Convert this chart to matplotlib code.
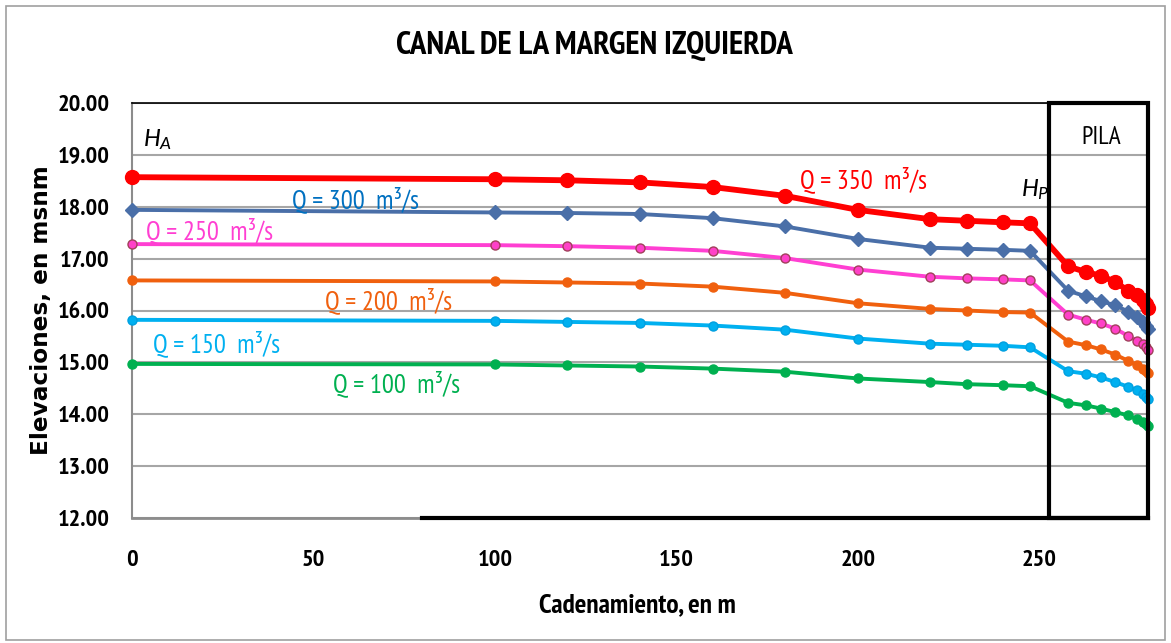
import matplotlib
matplotlib.use("Agg")
import matplotlib.pyplot as plt
from matplotlib.patches import Rectangle

# ---- data ----
cadenamiento = [0, 100, 120, 140, 160, 180, 200, 220, 230, 240, 247.5,
                258, 263, 267, 271, 274.5, 277, 278.5, 279.5, 280]
q350 = [18.57, 18.53, 18.51, 18.47, 18.38, 18.21, 17.94, 17.76, 17.73, 17.70, 17.68,
        16.85, 16.74, 16.67, 16.55, 16.38, 16.29, 16.20, 16.12, 16.05]
q300 = [17.94, 17.89, 17.88, 17.86, 17.78, 17.62, 17.38, 17.21, 17.19, 17.17, 17.15,
        16.38, 16.27, 16.18, 16.10, 15.98, 15.87, 15.78, 15.70, 15.65]
q250 = [17.28, 17.26, 17.24, 17.21, 17.15, 17.01, 16.79, 16.65, 16.62, 16.60, 16.58,
        15.92, 15.82, 15.75, 15.65, 15.51, 15.42, 15.36, 15.29, 15.24]
q200 = [16.58, 16.56, 16.54, 16.52, 16.46, 16.34, 16.14, 16.03, 16.00, 15.97, 15.96,
        15.40, 15.33, 15.25, 15.15, 15.03, 14.94, 14.88, 14.83, 14.80]
q150 = [15.82, 15.80, 15.78, 15.76, 15.71, 15.63, 15.46, 15.36, 15.34, 15.32, 15.29,
        14.83, 14.78, 14.71, 14.62, 14.53, 14.46, 14.40, 14.34, 14.30]
q100 = [14.97, 14.96, 14.94, 14.92, 14.88, 14.82, 14.69, 14.62, 14.58, 14.56, 14.54,
        14.22, 14.17, 14.11, 14.04, 13.98, 13.90, 13.85, 13.81, 13.78]

series_labels = ['Q = 350  m³/s', 'Q = 300  m³/s', 'Q = 250  m³/s',
                 'Q = 200  m³/s', 'Q = 150  m³/s', 'Q = 100  m³/s']
x_ticks = [0, 50, 100, 150, 200, 250]
y_ticks = [12, 13, 14, 15, 16, 17, 18, 19, 20]
pila_start = 252.6
x_max = 280

NARROW = ['PT Sans Narrow', 'DejaVu Sans']
plt.rcParams['font.family'] = NARROW
plt.rcParams['mathtext.fontset'] = 'custom'
plt.rcParams['mathtext.it'] = 'Carlito:italic'
plt.rcParams['mathtext.rm'] = 'Carlito'

W, H = 1171, 643
fig = plt.figure(figsize=(W / 100, H / 100), dpi=100)
ax = fig.add_axes([132 / W, 1 - 518 / H, (1148 - 132) / W, (518 - 103) / H])


def fit(t, target_px):
    fig.canvas.draw()
    w = t.get_window_extent().width
    t.set_fontsize(t.get_fontsize() * target_px / w)
    return t.get_fontsize()


# measure tick font size: "20.00" should be ~52 px wide
probe = fig.text(0.5, 0.5, '20.00', fontsize=18, fontweight='bold')
tick_fs = fit(probe, 52)
probe.remove()

series = [
    (q350, '#FF0000', 'o', 10, 4.2, '#FF0000', '#FF0000'),
    (q300, '#4A6FA8', 'D', 7, 2.8, '#4A6FA8', '#4A6FA8'),
    (q250, '#FF3FD2', 'o', 6.5, 2.8, '#FF40C8', '#A0405A'),
    (q200, '#F0600E', 'o', 6.5, 2.8, '#F0600E', '#F0600E'),
    (q150, '#00B0F0', 'o', 6.5, 2.8, '#00B0F0', '#00A0E0'),
    (q100, '#00B050', 'o', 6.5, 2.8, '#00B050', '#00B050'),
]
for vals, col, mk, ms, lw, mfc, mec in series:
    ax.plot(cadenamiento, vals, color=col, lw=lw, marker=mk, ms=ms,
            mfc=mfc, mec=mec, mew=1.0, zorder=3, clip_on=False)

ax.set_xlim(0, x_max)
ax.set_ylim(12, 20)
ax.set_xticks(x_ticks)
ax.set_yticks(y_ticks)
ax.set_yticklabels([f"{v:.2f}" for v in y_ticks])
ax.tick_params(axis='both', length=0, labelsize=tick_fs)
ax.tick_params(axis='x', pad=23)
ax.tick_params(axis='y', pad=16)
for lab in ax.get_xticklabels() + ax.get_yticklabels():
    lab.set_fontweight('bold')

ax.grid(axis='y', color='#A6A6A6', lw=1.5, zorder=0)
ax.spines['right'].set_visible(False)
ax.spines['top'].set_color('black')
ax.spines['top'].set_linewidth(1.2)
ax.spines['left'].set_color('#8C8C8C')
ax.spines['left'].set_linewidth(1.5)
ax.spines['bottom'].set_color('#8C8C8C')
ax.spines['bottom'].set_linewidth(2)

# thick black bottom segment and PILA box
ax.plot([80, x_max], [12, 12], color='black', lw=3, zorder=4, clip_on=False)
ax.add_patch(Rectangle((pila_start, 12), x_max - pila_start, 8, fill=False,
                       edgecolor='black', lw=3, zorder=5, clip_on=False))

# title and axis labels
title = fig.text(594 / W, 1 - 46 / H, 'CANAL DE LA MARGEN IZQUIERDA', fontsize=22,
                 fontweight='bold', ha='center', va='center')
fit(title, 395)
xl = fig.text(637 / W, 1 - 605 / H, 'Cadenamiento, en m', fontsize=18,
              fontweight='bold', ha='center', va='center')
fit(xl, 197)
yl = fig.text(42 / W, 1 - 310 / H, 'Elevaciones, en msnm', fontsize=16,
              fontweight='bold', ha='center', va='center', rotation=90,
              family=['DejaVu Sans'])
fig.canvas.draw()
yl.set_fontsize(yl.get_fontsize() * 290 / yl.get_window_extent().height)

# series labels (baseline positions)
lab_pos = [(184, 18.35), (44, 17.98), (3.8, 17.37), (53.2, 16.02), (5.9, 15.19), (55.5, 14.42)]
lab_col = ['#FF0000', '#0070C0', '#FF3FD2', '#F0600E', '#00B0F0', '#00B050']
lab_texts = []
for (lx, ly), txt, c in zip(lab_pos, series_labels, lab_col):
    lab_texts.append(ax.text(lx, ly, txt, color=c, fontsize=18, va='baseline'))
lab_fs = fit(lab_texts[0], 127)
for t in lab_texts:
    t.set_fontsize(lab_fs)

ax.text(2.9, 19.16, r'$H_A$', fontsize=lab_fs, va='baseline', color='black')
ax.text(245, 18.20, r'$H_P$', fontsize=lab_fs, va='baseline', color='black')
pila = ax.text(267.1, 19.21, 'PILA', fontsize=lab_fs, va='baseline', ha='center', color='black')
fit(pila, 40)

# outer border
fig.patches.append(Rectangle((0.005, 0.005), 0.99, 0.985, transform=fig.transFigure,
                             fill=False, edgecolor='#A0A0A0', lw=1.2))

fig.savefig('out.png', dpi=100)
